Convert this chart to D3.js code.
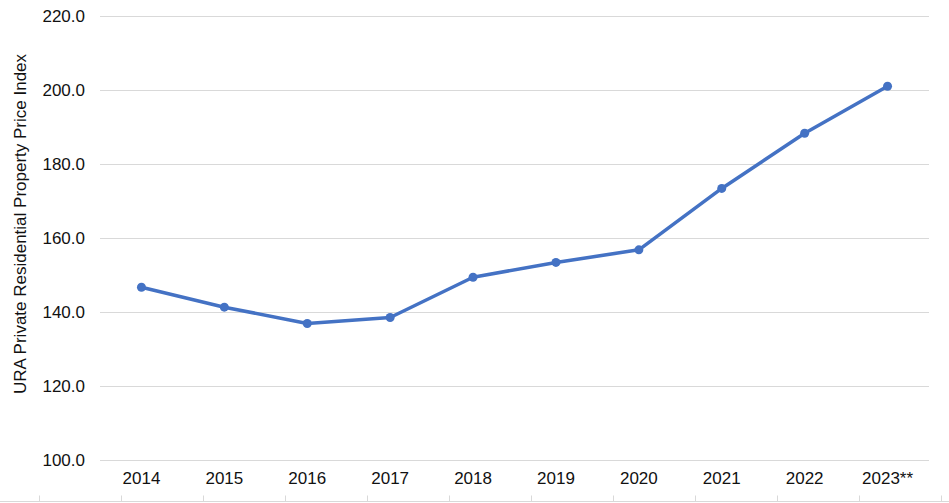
<!DOCTYPE html>
<html>
<head>
<meta charset="utf-8">
<script src="https://cdn.jsdelivr.net/npm/d3@7"></script>
<style>
  body { margin: 0; background: #fff; }
  text { font-family: "Liberation Sans", Arial, sans-serif; }
</style>
</head>
<body>
<svg id="chart"></svg>
<script>
var years = ["2014", "2015", "2016", "2017", "2018", "2019", "2020", "2021", "2022", "2023**"]
var priceIndex = [146.7, 141.3, 136.9, 138.5, 149.4, 153.4, 156.8, 173.4, 188.3, 201.0]
var yTicks = [100, 120, 140, 160, 180, 200, 220]

var dimensions = {
    width: 949,
    height: 503,
    margin: { top: 16, bottom: 43, left: 100, right: 20 }
}

var svg = d3.select("#chart")
    .attr("width", dimensions.width)
    .attr("height", dimensions.height)

var xScale = d3.scaleBand()
    .domain(years)
    .range([dimensions.margin.left, dimensions.width - dimensions.margin.right])

var yScale = d3.scaleLinear()
    .domain([100, 220])
    .range([dimensions.height - dimensions.margin.bottom, dimensions.margin.top])

// gridlines + y labels
var yAxis = d3.axisLeft(yScale)
    .tickValues(yTicks)
    .tickSize(-(dimensions.width - dimensions.margin.left - dimensions.margin.right))
    .tickPadding(15)
    .tickFormat(d3.format(".1f"))

var yG = svg.append("g")
    .attr("transform", "translate(" + dimensions.margin.left + ",0)")
    .call(yAxis)
yG.select(".domain").remove()
yG.selectAll("line").attr("stroke", "#d9d9d9").attr("stroke-width", 1)
yG.selectAll("text")
    .style("font-size", "17px")
    .attr("fill", "#111")

var xAxis = d3.axisBottom(xScale)
    .tickSize(0)
    .tickPadding(12)

var xG = svg.append("g")
    .attr("transform", "translate(0," + (dimensions.height - dimensions.margin.bottom) + ")")
    .call(xAxis)
xG.select(".domain").remove()
xG.selectAll("text")
    .style("font-size", "17px")
    .attr("fill", "#111")

// faint strip at the very bottom edge
var stripScale = d3.scaleLinear().domain([0, 11]).range([39, 941])
var stripG = svg.append("g")
    .attr("transform", "translate(0,501.5)")
    .call(d3.axisTop(stripScale).tickValues(d3.range(12)).tickSize(6).tickFormat(""))
stripG.select(".domain").attr("stroke", "#d9d9d9").attr("d", "M0,0H949")
stripG.selectAll("line").attr("stroke", "#d9d9d9")

svg.append("text")
    .attr("transform", "translate(26," + 224 + ") rotate(-90)")
    .attr("text-anchor", "middle")
    .style("font-size", "17px")
    .attr("fill", "#111")
    .text("URA Private Residential Property Price Index")

var line = d3.line()
    .x(function (d, i) { return xScale(years[i]) + xScale.bandwidth() / 2 })
    .y(function (d) { return yScale(d) })

svg.append("path")
    .attr("fill", "none")
    .attr("stroke", "#4472c4")
    .attr("stroke-width", 3.5)
    .attr("stroke-linejoin", "round")
    .attr("d", line(priceIndex))

svg.selectAll("circle.pt")
    .data(priceIndex)
    .enter()
    .append("circle")
    .attr("class", "pt")
    .attr("cx", function (d, i) { return xScale(years[i]) + xScale.bandwidth() / 2 })
    .attr("cy", function (d) { return yScale(d) })
    .attr("r", 4.5)
    .attr("fill", "#4472c4")
</script>
</body>
</html>
